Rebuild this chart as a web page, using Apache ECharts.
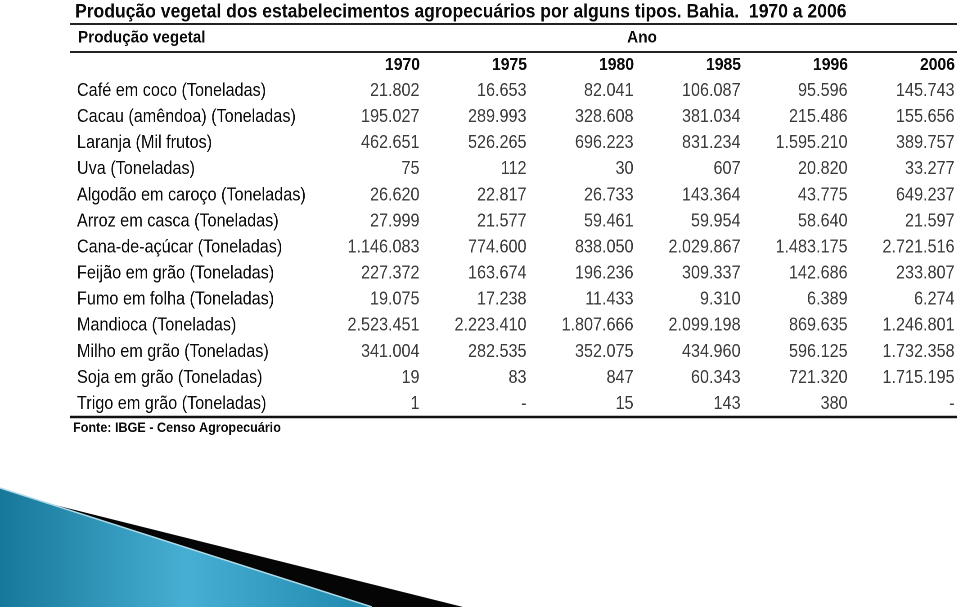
<!DOCTYPE html>
<html><head><meta charset="utf-8">
<script src="https://cdn.jsdelivr.net/npm/echarts@6/dist/echarts.min.js"></script>
<style>
html,body{margin:0;padding:0;background:#fff;overflow:hidden;width:960px;height:611px}
#c{width:1067px;height:611px;transform:scaleX(0.9);transform-origin:0 0}
</style>
</head><body><div id="c"></div><script>
const title = 'Produção vegetal dos estabelecimentos agropecuários por alguns tipos. Bahia.  1970 a 2006';
const rowHeader = 'Produção vegetal';
const colHeader = 'Ano';
const source = 'Fonte: IBGE - Censo Agropecuário';
const years = ['1970', '1975', '1980', '1985', '1996', '2006'];
const products = [
  'Café em coco (Toneladas)',
  'Cacau (amêndoa) (Toneladas)',
  'Laranja (Mil frutos)',
  'Uva (Toneladas)',
  'Algodão em caroço (Toneladas)',
  'Arroz em casca (Toneladas)',
  'Cana-de-açúcar (Toneladas)',
  'Feijão em grão (Toneladas)',
  'Fumo em folha (Toneladas)',
  'Mandioca (Toneladas)',
  'Milho em grão (Toneladas)',
  'Soja em grão (Toneladas)',
  'Trigo em grão (Toneladas)'
];
const v1970 = [21802, 195027, 462651, 75, 26620, 27999, 1146083, 227372, 19075, 2523451, 341004, 19, 1];
const v1975 = [16653, 289993, 526265, 112, 22817, 21577, 774600, 163674, 17238, 2223410, 282535, 83, null];
const v1980 = [82041, 328608, 696223, 30, 26733, 59461, 838050, 196236, 11433, 1807666, 352075, 847, 15];
const v1985 = [106087, 381034, 831234, 607, 143364, 59954, 2029867, 309337, 9310, 2099198, 434960, 60343, 143];
const v1996 = [95596, 215486, 1595210, 20820, 43775, 58640, 1483175, 142686, 6389, 869635, 596125, 721320, 380];
const v2006 = [145743, 155656, 389757, 33277, 649237, 21597, 2721516, 233807, 6274, 1246801, 1732358, 1715195, null];
const columns = [v1970, v1975, v1980, v1985, v1996, v2006];

function fmt(n) {
  if (n === null || n === undefined) return '-';
  return String(n).replace(/\B(?=(\d{3})+(?!\d))/g, '.');
}

const cells = [];
columns.forEach((col, c) => {
  col.forEach((v, r) => {
    cells.push({ value: [c, r], name: fmt(v) });
  });
});

// the page is drawn 1/0.9 wider and squeezed horizontally by CSS (condensed type)
const S = 0.9;
const X = v => v / S;
const FONT = '"Liberation Sans", Arial, Helvetica, sans-serif';
const TXT = '#0a0a0a';

const chart = echarts.init(document.getElementById('c'), null, { renderer: 'canvas', devicePixelRatio: 2 });
chart.setOption({
  backgroundColor: '#fff',
  animation: false,
  grid: { left: X(420), right: 1067 - X(955), top: 91, bottom: 207 },
  xAxis: {
    type: 'category',
    data: years,
    position: 'top',
    boundaryGap: false,
    axisLine: { show: false },
    axisTick: { show: false },
    splitLine: { show: false },
    axisLabel: {
      interval: 0, align: 'right', verticalAlign: 'middle', margin: 26,
      fontFamily: FONT, fontSize: 17.5, fontWeight: 'bold', color: TXT
    }
  },
  yAxis: {
    type: 'category',
    data: products,
    inverse: true,
    boundaryGap: false,
    axisLine: { show: false },
    axisTick: { show: false },
    splitLine: { show: false },
    axisLabel: {
      interval: 0, align: 'left', verticalAlign: 'middle', margin: X(420) - X(77),
      fontFamily: FONT, fontSize: 18, color: TXT
    }
  },
  series: [{
    type: 'scatter',
    silent: true,
    symbolSize: 1,
    itemStyle: { color: 'rgba(0,0,0,0)' },
    data: cells,
    label: {
      show: true, position: 'left', distance: 0,
      formatter: p => p.name,
      fontFamily: FONT, fontSize: 18, color: TXT, verticalAlign: 'middle'
    }
  }],
  graphic: [
    {
      type: 'polygon', silent: true,
      shape: { points: [[0, 488], [X(372), 607], [0, 607]] },
      style: {
        fill: { type: 'linear', x: 0, y: 0, x2: 1, y2: 0, colorStops: [
          { offset: 0, color: '#17789a' },
          { offset: 0.5, color: '#47afd3' },
          { offset: 1, color: '#1f88ad' }
        ] }
      }
    },
    {
      type: 'polygon', silent: true,
      shape: { points: [[X(55), 505], [X(463), 607], [X(372), 607]] },
      style: { fill: '#050505' }
    },
    {
      type: 'line', silent: true,
      shape: { x1: 0, y1: 488, x2: X(372), y2: 607 },
      style: { stroke: '#a9dcec', lineWidth: 1.5 }
    },
    {
      type: 'text', x: X(75), y: 12, silent: true,
      style: { text: title, font: 'bold 19.5px ' + FONT, fill: TXT, verticalAlign: 'middle' }
    },
    {
      type: 'line', silent: true,
      shape: { x1: X(70), y1: 24, x2: X(957), y2: 24 },
      style: { stroke: '#222', lineWidth: 2 }
    },
    {
      type: 'text', x: X(78), y: 38, silent: true,
      style: { text: rowHeader, font: 'bold 17px ' + FONT, fill: TXT, verticalAlign: 'middle' }
    },
    {
      type: 'text', x: X(642), y: 38, silent: true,
      style: { text: colHeader, font: 'bold 17px ' + FONT, fill: TXT, align: 'center', verticalAlign: 'middle' }
    },
    {
      type: 'line', silent: true,
      shape: { x1: X(70), y1: 52, x2: X(957), y2: 52 },
      style: { stroke: '#222', lineWidth: 2 }
    },
    {
      type: 'line', silent: true,
      shape: { x1: X(70), y1: 417, x2: X(957), y2: 417 },
      style: { stroke: '#111', lineWidth: 2.5 }
    },
    {
      type: 'text', x: X(73), y: 428, silent: true,
      style: { text: source, font: 'bold 14px ' + FONT, fill: TXT, verticalAlign: 'middle' }
    }
  ]
});
</script></body></html>
